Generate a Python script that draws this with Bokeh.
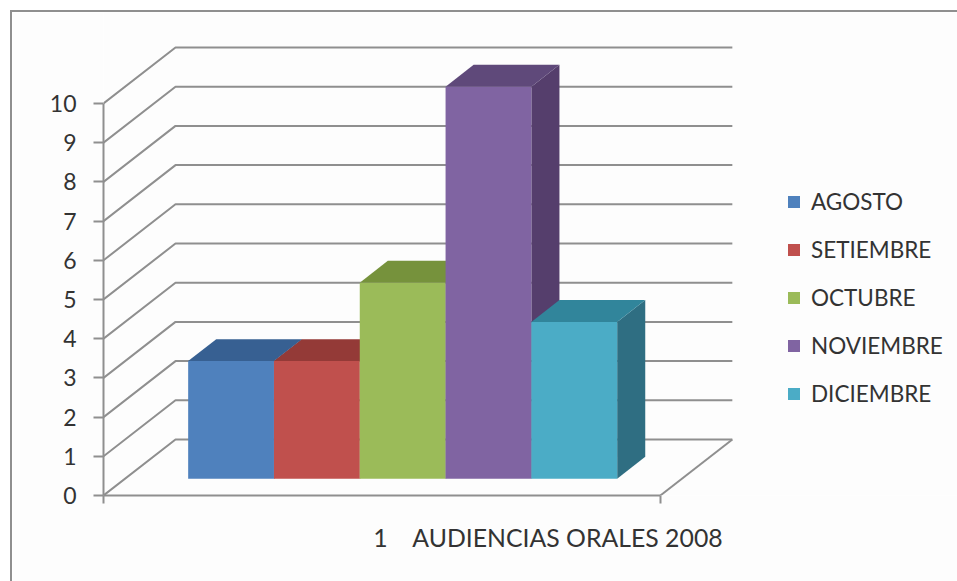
from bokeh.plotting import figure
from bokeh.models import FixedTicker, Legend, LegendItem
from bokeh.embed import file_html
from bokeh.resources import INLINE

months = ["AGOSTO", "SETIEMBRE", "OCTUBRE", "NOVIEMBRE", "DICIEMBRE"]
values = [3, 3, 5, 10, 4]
front_colors = ["#4F81BD", "#C0504D", "#9BBB59", "#8064A2", "#4BACC6"]
top_colors = ["#376092", "#943A37", "#76923C", "#5F497A", "#31859B"]
side_colors = ["#2F5480", "#7E2F2D", "#62793A", "#553E6C", "#2F6E82"]
y_ticks = list(range(0, 11))
category_label = "1"
axis_title = "AUDIENCIAS ORALES 2008"

FONT = "Lato"
TEXT = "#333333"
GRID = "#8f8f8f"

# Projection: one x unit = one bar width, one y unit = one value step
PX_X, PX_Y = 85.8, 39.2
FLOOR_W = 6.49                     # width of the floor, in bars
PAD = 0.735                        # space before first bar on front plane
DX, DY = 72 / PX_X, 56 / PX_Y      # shift of the full depth
Z0, Z1 = 0.30, 0.69                # bar depth span


def proj(x, y, z):
    return x + z * DX, y + z * DY


MARGIN = 10
W, H = 957 - MARGIN, 581 - MARGIN
LEFT, BOTTOM = 91, 88
x_end = (W - LEFT) / PX_X
y_end = (H - BOTTOM) / PX_Y

p = figure(width=W, height=H, output_backend="svg", toolbar_location=None,
           x_range=(0, x_end), y_range=(0, y_end),
           min_border_left=LEFT, min_border_bottom=BOTTOM,
           min_border_top=0, min_border_right=0,
           background_fill_color="#fdfdfd", border_fill_color="#fdfdfd",
           outline_line_color=None,
           margin=(MARGIN, 0, 0, MARGIN),
           styles={"border-left": f"2px solid {GRID}", "border-top": f"2px solid {GRID}",
                   "box-sizing": "border-box"})
p.grid.visible = False

# walls
for t in y_ticks:
    a, b, c = proj(0, t, 0), proj(0, t, 1), proj(FLOOR_W, t, 1)
    p.line([a[0], b[0], c[0]], [a[1], b[1], c[1]], line_color=GRID, line_width=2)
a, b = proj(FLOOR_W, 0, 0), proj(FLOOR_W, 0, 1)
p.line([a[0], b[0]], [a[1], b[1]], line_color=GRID, line_width=2)

# bars
items = []
for i, (name, v) in enumerate(zip(months, values)):
    x0, x1 = PAD + i, PAD + i + 1
    for pts, col in [
        ([(x1, 0, Z0), (x1, 0, Z1), (x1, v, Z1), (x1, v, Z0)], side_colors[i]),
        ([(x0, v, Z0), (x1, v, Z0), (x1, v, Z1), (x0, v, Z1)], top_colors[i]),
    ]:
        q = [proj(*t) for t in pts]
        p.patch([c[0] for c in q], [c[1] for c in q], fill_color=col, line_color=None)
    q = [proj(*t) for t in [(x0, 0, Z0), (x1, 0, Z0), (x1, v, Z0), (x0, v, Z0)]]
    r = p.patch([c[0] for c in q], [c[1] for c in q], fill_color=front_colors[i], line_color=None)
    items.append(LegendItem(label=name, renderers=[r]))

# axes
ya = p.yaxis[0]
ya.ticker = FixedTicker(ticks=y_ticks)
ya.bounds = (0, 10)
ya.axis_line_color = GRID
ya.axis_line_width = 2
ya.major_tick_line_color = GRID
ya.major_tick_line_width = 2
ya.major_tick_out = 10
ya.major_tick_in = 0
ya.minor_tick_line_color = None
ya.major_label_standoff = 17
ya.major_label_text_font = FONT
ya.major_label_text_font_size = "23px"
ya.major_label_text_color = TEXT

ONE_X = (380 - 103) / PX_X
TITLE_X = (567 - 103) / PX_X
xa = p.xaxis[0]
xa.ticker = FixedTicker(ticks=[ONE_X, TITLE_X], minor_ticks=[0, FLOOR_W])
xa.major_label_overrides = {ONE_X: category_label, TITLE_X: axis_title}
xa.bounds = (0, FLOOR_W)
xa.axis_line_color = GRID
xa.axis_line_width = 2
xa.major_tick_line_color = None
xa.major_tick_out = 0
xa.major_tick_in = 0
xa.minor_tick_line_color = GRID
xa.minor_tick_line_width = 2
xa.minor_tick_out = 8
xa.minor_tick_in = 0
xa.major_label_standoff = 19
xa.major_label_text_font = FONT
xa.major_label_text_font_size = "24.8px"
xa.major_label_text_color = TEXT

legend = Legend(items=items, location=(683, 88), orientation="vertical",
                background_fill_alpha=0, border_line_color=None,
                glyph_width=15, glyph_height=15, label_standoff=10,
                spacing=21, padding=0, margin=0,
                label_text_font=FONT, label_text_font_size="22.5px",
                label_text_color=TEXT)
p.add_layout(legend)

open("out.html", "w").write(file_html(p, INLINE))
